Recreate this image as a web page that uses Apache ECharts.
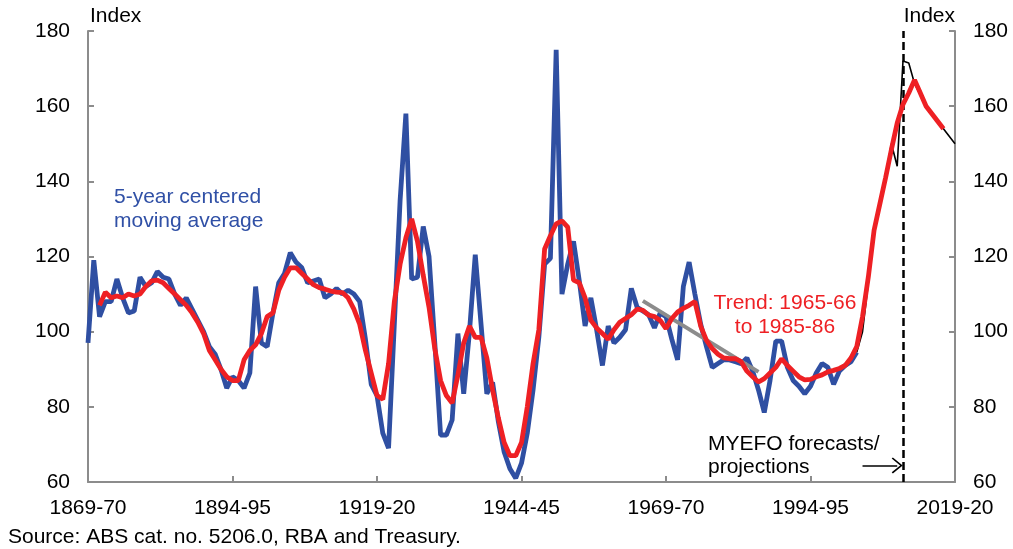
<!DOCTYPE html>
<html>
<head>
<meta charset="utf-8">
<script src="https://cdn.jsdelivr.net/npm/echarts@6/dist/echarts.min.js"></script>
<style>
  html, body { margin: 0; padding: 0; background: #fff; }
  #chart { width: 1013px; height: 549px; }
</style>
</head>
<body>
<div id="chart"></div>
<script>
// years on the x axis (financial years, 1869-70 .. 2019-20)
var firstYear = 1869;
var lastYear = 2019;

// annual index, 1869-70 to 2002-03 (blue)
var annualStart = 1869;
var annualValues = [
    97, 119, 104, 108, 108, 114, 109, 105, 105.5, 114.5,
    112, 113, 116, 114.5, 114, 110, 107, 109, 106, 103,
    100, 96, 94, 90, 85, 88, 87, 85, 89, 112,
    97, 96, 105, 113, 115.5, 121, 118.5, 117, 113, 113.5,
    114, 109, 110, 111.5, 110, 111, 110, 108, 98, 86,
    83, 73, 69, 102, 135, 158, 114, 114.5, 128, 120,
    97, 72.5, 72.5, 76.5, 99.5, 83.5, 100, 120.5, 102, 83.5,
    86.5, 76, 68, 63.5, 61, 65, 73, 84.5, 98.5, 118,
    119.5, 175, 110, 118, 124, 113.5, 101.5, 109, 100.5, 91,
    101.5, 97, 98.5, 100.5, 111.5, 106.5, 105.5, 104.5, 101, 105,
    104, 98, 92.5, 112, 118.5, 110, 102, 96, 90.5, 91.5,
    92.5, 92.5, 92, 91.5, 93, 89.5, 84.5, 78.5, 87, 97.5,
    97.5, 90.5, 87, 85.5, 83.5, 85.5, 89, 91.5, 90.5, 86,
    89.5, 91, 92, 94.5
];

// 5-year centred moving average, 1871-72 to 2017-18 (red)
var avgStart = 1871;
var avgValues = [
    107, 110.5, 109, 109.5, 109, 110, 109.5, 110, 112,
    113.5, 113.7, 113, 111.5, 110, 108.5, 107, 105, 102.5, 99.5,
    95, 92.5, 90, 88, 87, 87, 92.5, 95, 96.5, 99.5,
    104, 105, 111, 114.5, 117, 117, 115.5, 114, 112.5, 111.7,
    111.3, 110.8, 110.5, 110.4, 109, 106, 102, 95, 89, 83,
    82, 91.5, 108, 118, 125, 130, 124, 115, 106.5, 95.5,
    87, 83, 81, 88.5, 97, 101.5, 98.5, 98.5, 93, 84.5,
    77, 70.5, 67, 67, 70.5, 80, 91.5, 100.5, 122, 125.5,
    128.7, 129.5, 127.8, 113.7, 113, 109, 103, 101, 99.5, 98,
    100.5, 102.5, 103.5, 104.5, 106, 105.7, 104.4, 104, 103, 100.8,
    103.5, 105.2, 106.2, 107, 108, 101.5, 97.7, 95.5, 94, 93,
    92.8, 92.8, 92, 89.5, 88, 86.6, 87.5, 89, 90.5, 92.8,
    91, 89.5, 88, 87.2, 87.3, 88, 88.5, 89.3, 89.7, 90.2,
    91, 93, 96, 104, 114.5, 127, 134, 141, 148.5, 155.5,
    160.5, 163.5, 167, 163.5, 160, 158, 156, 154
];

// recent outcomes and MYEFO forecasts/projections (black)
var recentStart = 2002;
var recentValues = [
    94.5, 100, 113, 127, 134.5, 141.5, 150, 144, 172, 171.5,
    166, 163, 160, 158, 156, 154, 152, 150
];

// trend line 1965-66 to 1985-86 (grey)
var trendYears = [1965, 1985];
var trendValues = [108.2, 89.3];

var forecastYear = 2010;
var arrowYears = [2003, 2009];
var arrowLevel = 64.4;

var yTicks = { min: 60, max: 180, step: 20 };

var categories = [];
for (var y = firstYear; y <= lastYear; y++) {
    categories.push(String(y));
}

function pairs(start, vals) {
    return vals.map(function (v, i) {
        return [String(start + i), v];
    });
}

function fyLabel(v) {
    var n = parseInt(v, 10);
    var nx = String((n + 1) % 100);
    if (nx.length < 2) nx = '0' + nx;
    return n + '-' + nx;
}

var font = 'Liberation Sans, Arial, sans-serif';
var fs = 21;
var axisGrey = '#8c8c8c';

var chart = echarts.init(document.getElementById('chart'));

var yAxisCommon = {
    type: 'value',
    min: yTicks.min,
    max: yTicks.max,
    interval: yTicks.step,
    splitLine: { show: false },
    axisLine: { show: true, lineStyle: { color: axisGrey, width: 2 } },
    axisTick: { show: true, inside: true, length: 6, lineStyle: { color: axisGrey, width: 2 } },
    axisLabel: { color: '#000', fontSize: fs, fontFamily: font, margin: 18 }
};

var option = {
    animation: false,
    grid: { left: 88, right: 58, top: 31, bottom: 67 },
    xAxis: {
        type: 'category',
        data: categories,
        boundaryGap: false,
        axisLine: { lineStyle: { color: axisGrey, width: 2 } },
        axisTick: { inside: true, length: 6, interval: 24, lineStyle: { color: axisGrey, width: 2 } },
        axisLabel: {
            interval: 24,
            color: '#000',
            fontSize: fs,
            fontFamily: font,
            margin: 16,
            formatter: fyLabel
        }
    },
    yAxis: [
        Object.assign({}, yAxisCommon, { position: 'left' }),
        Object.assign({}, yAxisCommon, { position: 'right' })
    ],
    series: [
        {
            name: 'Annual',
            type: 'line',
            data: pairs(annualStart, annualValues),
            showSymbol: false,
            lineStyle: { color: '#2f4fa2', width: 4.8 },
            z: 2
        },
        {
            name: 'Trend',
            type: 'line',
            data: [[String(trendYears[0]), trendValues[0]], [String(trendYears[1]), trendValues[1]]],
            showSymbol: false,
            lineStyle: { color: '#8c8c8c', width: 4 },
            z: 3
        },
        {
            name: 'Forecast',
            type: 'line',
            data: pairs(recentStart, recentValues),
            showSymbol: false,
            lineStyle: { color: '#000', width: 1.6 },
            z: 4,
            markLine: {
                silent: true,
                animation: false,
                label: { show: false },
                symbol: 'none',
                data: [
                    [
                        { xAxis: String(forecastYear), yAxis: yTicks.min },
                        { xAxis: String(forecastYear), yAxis: yTicks.max }
                    ]
                ],
                lineStyle: { color: '#000', type: [8, 4], width: 2.5 }
            }
        },
        {
            name: 'Arrow',
            type: 'line',
            data: [],
            markLine: {
                silent: true,
                animation: false,
                label: { show: false },
                symbol: ['none', 'path://M0,10 L10,0 L20,10 L18.6,11.2 L10,2.6 L1.4,11.2 Z'],
                symbolSize: [16, 11],
                data: [
                    [
                        { coord: [String(arrowYears[0]), arrowLevel] },
                        { coord: [String(arrowYears[1]), arrowLevel] }
                    ]
                ],
                lineStyle: { color: '#000', type: 'solid', width: 1.5 }
            }
        },
        {
            name: '5-year centred moving average',
            type: 'line',
            data: pairs(avgStart, avgValues),
            showSymbol: false,
            lineStyle: { color: '#ee2024', width: 4.8 },
            z: 5
        }
    ],
    graphic: [
        { type: 'text', left: 90, top: 6, style: { text: 'Index', fontSize: fs, fontFamily: font, fill: '#000' } },
        { type: 'text', right: 58, top: 6, style: { text: 'Index', fontSize: fs, fontFamily: font, fill: '#000' } },
        { type: 'text', left: 114, top: 185,
          style: { text: '5-year centered\nmoving average', fontSize: fs, lineHeight: 24, fontFamily: font, fill: '#3050a6' } },
        { type: 'text',
          style: { x: 785, y: 291, text: 'Trend: 1965-66\nto 1985-86', fontSize: fs, lineHeight: 24, fontFamily: font,
                   fill: '#ee2024', align: 'center', verticalAlign: 'top' } },
        { type: 'text', left: 708, top: 433,
          style: { text: 'MYEFO forecasts/\nprojections', fontSize: fs, lineHeight: 23, fontFamily: font, fill: '#000' } },
        { type: 'text', left: 8, top: 527,
          style: { text: 'Source: ABS cat. no. 5206.0, RBA and Treasury.', fontSize: fs, fontFamily: font, fill: '#000' } }
    ]
};

chart.setOption(option);
</script>
</body>
</html>
